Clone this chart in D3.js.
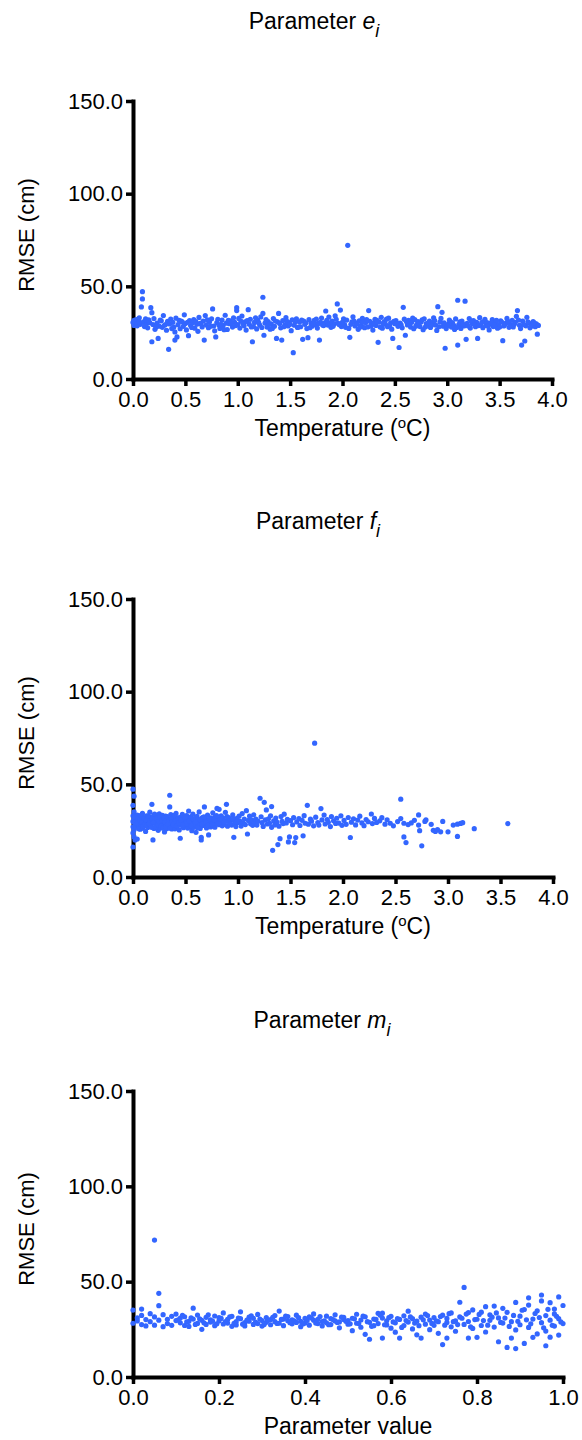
<!DOCTYPE html>
<html>
<head>
<meta charset="utf-8">
<script src="https://cdn.jsdelivr.net/npm/d3@7"></script>
<style>
  body { margin: 0; background: #fff; }
  svg text { font-family: "Liberation Sans", Arial, sans-serif; fill: #000; }
</style>
</head>
<body>
<div id="chart"></div>
<script>
'use strict'

////////////////////////////////////
/////////////// data ///////////////
////////////////////////////////////

// [temperature (oC), RMSE (cm)] for parameter e_i
const paramE = [
  [0.00,30.5],[0.01,28.9],[0.01,31.6],[0.02,29.8],[0.03,32.1],[0.03,30.4],[0.04,28.7],[0.05,31.2],[0.06,33.0],[0.07,29.5],
  [0.08,38.9],[0.09,47.1],[0.09,43.2],[0.10,30.8],[0.11,28.3],[0.12,32.4],[0.13,30.1],[0.14,27.6],[0.15,31.9],[0.17,38.5],
  [0.18,35.8],[0.18,20.1],[0.19,29.4],[0.20,32.6],[0.21,26.8],[0.23,30.2],[0.24,21.9],[0.25,28.5],[0.27,31.4],[0.28,27.9],
  [0.29,34.2],[0.30,29.0],[0.32,26.3],[0.33,31.1],[0.34,16.0],[0.35,29.7],[0.36,32.3],[0.37,27.2],[0.38,30.6],[0.40,21.0],
  [0.40,25.4],[0.41,32.8],[0.42,22.7],[0.43,29.3],[0.44,31.7],[0.45,27.1],[0.47,30.9],[0.48,28.4],[0.49,34.6],[0.50,29.9],
  [0.51,26.5],[0.53,23.4],[0.54,31.5],[0.55,28.8],[0.57,30.3],[0.58,32.0],[0.59,27.4],[0.61,29.6],[0.62,25.7],[0.63,33.2],
  [0.64,30.0],[0.66,28.1],[0.67,31.3],[0.68,21.0],[0.69,34.2],[0.70,29.2],[0.72,27.7],[0.73,30.7],[0.75,32.5],[0.76,37.8],
  [0.77,28.6],[0.78,26.0],[0.79,22.7],[0.80,30.4],[0.82,29.1],[0.83,27.3],[0.85,31.8],[0.86,28.9],[0.88,34.4],[0.89,30.1],
  [0.90,26.7],[0.92,29.8],[0.93,31.4],[0.95,28.0],[0.96,33.0],[0.97,30.6],[0.99,38.5],[0.99,36.9],[1.00,29.4],[1.02,27.5],
  [1.03,31.2],[1.04,34.0],[1.06,28.7],[1.07,30.9],[1.08,26.4],[1.10,37.4],[1.11,29.6],[1.12,32.2],[1.14,20.1],[1.15,28.3],
  [1.16,30.5],[1.18,27.0],[1.19,31.7],[1.21,29.1],[1.22,33.5],[1.24,44.1],[1.24,35.4],[1.25,23.6],[1.26,30.2],[1.28,28.0],
  [1.29,31.0],[1.31,26.9],[1.32,29.7],[1.34,32.6],[1.35,28.4],[1.37,21.9],[1.38,30.8],[1.39,35.4],[1.41,27.6],[1.42,21.0],
  [1.43,31.5],[1.45,29.2],[1.46,33.1],[1.48,28.6],[1.49,30.4],[1.51,26.1],[1.52,31.9],[1.53,14.2],[1.54,29.0],[1.56,32.4],
  [1.57,27.8],[1.59,30.7],[1.60,28.2],[1.62,21.4],[1.63,31.3],[1.64,29.5],[1.66,27.2],[1.67,22.3],[1.68,32.0],[1.70,30.1],
  [1.71,28.5],[1.73,31.6],[1.74,29.3],[1.76,27.5],[1.78,21.0],[1.79,30.6],[1.80,32.9],[1.82,28.8],[1.83,30.3],[1.84,36.7],
  [1.86,29.1],[1.87,33.4],[1.89,27.9],[1.90,31.2],[1.92,29.7],[1.93,34.1],[1.95,40.5],[1.96,30.0],[1.98,37.2],[1.99,28.3],
  [2.01,32.5],[2.02,29.4],[2.04,31.8],[2.05,72.1],[2.06,27.3],[2.07,22.5],[2.09,30.9],[2.10,33.6],[2.12,28.6],[2.13,30.2],
  [2.15,26.8],[2.16,31.4],[2.18,29.0],[2.19,32.7],[2.21,27.7],[2.22,30.5],[2.24,28.1],[2.25,36.9],[2.26,31.1],[2.28,29.3],
  [2.29,26.4],[2.31,32.2],[2.32,28.9],[2.34,19.8],[2.35,30.7],[2.37,33.3],[2.38,27.4],[2.40,31.0],[2.41,29.6],[2.43,28.2],
  [2.44,32.8],[2.46,30.3],[2.47,26.9],[2.48,21.9],[2.50,29.8],[2.51,31.5],[2.53,28.4],[2.54,17.0],[2.55,30.1],[2.57,27.6],
  [2.58,38.7],[2.59,32.3],[2.60,23.6],[2.62,29.2],[2.63,31.7],[2.65,28.0],[2.66,30.6],[2.68,27.1],[2.69,32.1],[2.71,29.5],
  [2.72,31.0],[2.74,28.3],[2.75,30.8],[2.77,26.6],[2.78,32.5],[2.80,29.9],[2.81,28.7],[2.83,31.3],[2.84,27.8],[2.86,30.4],
  [2.87,33.0],[2.89,29.1],[2.90,26.2],[2.91,39.0],[2.93,30.7],[2.95,36.0],[2.96,28.5],[2.98,16.6],[2.99,27.2],[3.01,29.6],
  [3.02,31.8],[3.04,28.0],[3.05,30.3],[3.07,26.7],[3.08,32.4],[3.10,42.5],[3.10,18.3],[3.11,29.4],[3.13,27.3],[3.14,31.2],
  [3.16,28.6],[3.17,42.0],[3.18,21.4],[3.19,30.0],[3.21,32.6],[3.22,27.5],[3.24,29.8],[3.25,31.5],[3.27,28.2],[3.28,30.6],
  [3.29,21.9],[3.31,33.1],[3.32,29.0],[3.34,27.7],[3.35,31.0],[3.37,28.9],[3.38,30.4],[3.40,26.5],[3.41,29.7],[3.43,32.0],
  [3.44,28.3],[3.46,30.9],[3.48,27.4],[3.49,29.3],[3.51,31.4],[3.53,20.7],[3.54,28.6],[3.56,30.2],[3.57,32.7],[3.59,27.9],
  [3.60,29.5],[3.62,31.7],[3.63,28.1],[3.65,30.6],[3.66,33.8],[3.67,36.9],[3.69,29.0],[3.70,27.2],[3.71,18.3],[3.72,31.2],
  [3.74,20.5],[3.75,28.7],[3.76,33.3],[3.78,30.1],[3.79,27.6],[3.81,29.4],[3.82,31.0],[3.84,28.2],[3.85,29.8],[3.86,24.2],
  [3.87,28.9],
  [0.02,31.0],[0.04,29.9],[0.06,30.7],[0.12,29.0],[0.16,30.4],[0.22,28.1],[0.26,31.8],[0.31,29.4],[0.39,28.0],[0.46,31.2],
  [0.52,30.6],[0.56,27.8],[0.60,31.0],[0.65,29.7],[0.71,31.9],[0.74,28.4],[0.81,32.2],[0.84,29.5],[0.87,26.6],[0.91,31.6],
  [0.94,30.2],[0.98,28.8],[1.01,32.7],[1.05,29.8],[1.09,31.5],[1.13,28.1],[1.17,33.0],[1.20,30.4],[1.23,27.8],[1.27,32.1],
  [1.30,29.5],[1.33,27.3],[1.36,31.3],[1.40,30.0],[1.44,28.2],[1.47,31.1],[1.50,29.5],[1.55,30.9],[1.58,28.0],[1.61,31.8],
  [1.65,30.3],[1.69,27.7],[1.72,29.9],[1.75,32.3],[1.77,30.0],[1.81,29.2],[1.85,31.6],[1.88,30.2],[1.91,28.4],[1.94,32.2],
  [1.97,29.3],[2.00,30.7],[2.03,27.9],[2.08,29.5],[2.11,31.2],[2.14,29.7],[2.17,28.0],[2.20,30.9],[2.23,32.0],[2.27,28.5],
  [2.30,30.3],[2.33,31.6],[2.36,28.0],[2.39,30.0],[2.42,32.3],[2.45,28.8],[2.49,31.1],[2.52,30.0],[2.56,29.2],[2.61,31.0],
  [2.64,29.6],[2.67,32.8],[2.70,28.5],[2.73,29.9],[2.76,31.9],[2.79,28.0],[2.82,30.1],[2.85,29.0],[2.88,31.5],[2.92,28.2],
  [2.94,32.7],[2.97,30.3],[3.00,28.7],[3.03,31.0],[3.06,29.1],[3.09,27.8],[3.12,30.8],[3.15,29.6],[3.20,28.6],[3.23,31.2],
  [3.26,29.4],[3.30,28.8],[3.33,30.6],[3.36,32.2],[3.39,28.5],[3.42,30.4],[3.45,29.1],[3.47,31.6],[3.50,28.0],[3.52,30.7],
  [3.55,29.4],[3.58,31.1],[3.61,28.6],[3.64,29.6],[3.68,31.8],[3.73,29.3],[3.77,30.9],[3.80,28.4],[3.83,30.3]
]

// [temperature (oC), RMSE (cm)] for parameter f_i
const paramF = [
  [0.00,47.4],[0.01,43.6],[0.00,38.7],[0.01,35.2],[0.00,33.0],[0.01,31.4],[0.00,30.0],[0.02,28.7],[0.00,27.1],[0.01,25.5],
  [0.00,23.8],[0.01,21.6],[0.02,20.0],[0.00,16.2],[0.02,29.6],[0.03,31.9],[0.03,26.9],[0.04,20.5],[0.04,33.4],[0.05,28.2],
  [0.05,30.8],[0.06,27.4],[0.06,32.6],[0.07,29.1],[0.07,25.8],[0.08,31.3],[0.08,28.0],[0.09,34.3],[0.09,26.3],[0.10,30.2],
  [0.10,32.1],[0.11,27.8],[0.11,29.5],[0.12,31.0],[0.12,24.6],[0.13,28.6],[0.13,33.0],[0.14,30.4],[0.14,26.7],[0.15,29.2],
  [0.15,31.8],[0.16,27.3],[0.16,35.0],[0.17,30.0],[0.17,28.1],[0.18,39.2],[0.18,32.4],[0.19,20.0],[0.19,29.8],[0.20,26.2],
  [0.20,31.1],[0.21,28.8],[0.21,33.6],[0.22,30.6],[0.22,27.0],[0.23,29.3],[0.23,32.2],[0.24,25.2],[0.24,30.9],[0.25,28.4],
  [0.25,34.1],[0.26,29.7],[0.26,26.5],[0.27,31.5],[0.27,28.0],[0.28,30.3],[0.28,33.3],[0.29,27.6],[0.29,29.9],[0.30,24.3],
  [0.30,31.7],[0.31,28.9],[0.31,32.9],[0.32,30.1],[0.32,26.1],[0.33,29.0],[0.33,31.2],[0.34,27.7],[0.35,44.1],[0.35,37.8],
  [0.35,30.5],[0.36,28.3],[0.36,33.7],[0.37,25.9],[0.37,29.6],[0.38,31.4],[0.38,27.2],[0.39,30.0],[0.39,32.5],[0.40,28.5],
  [0.40,26.0],[0.41,30.7],[0.41,34.3],[0.42,29.1],[0.42,27.4],[0.43,31.9],[0.43,28.2],[0.44,30.4],[0.44,25.4],[0.45,20.9],
  [0.45,32.2],[0.46,29.4],[0.46,27.9],[0.47,31.0],[0.47,33.8],[0.48,28.6],[0.48,26.6],[0.49,30.2],[0.49,29.0],[0.50,31.6],
  [0.50,27.5],[0.51,33.1],[0.51,29.8],[0.52,26.4],[0.52,30.6],[0.53,28.3],[0.53,35.6],[0.54,31.3],[0.54,27.0],[0.55,29.5],
  [0.55,32.4],[0.56,25.0],[0.56,30.1],[0.57,28.0],[0.57,33.9],[0.58,29.3],[0.58,26.8],[0.59,31.5],[0.59,28.7],[0.60,30.4],
  [0.60,24.1],[0.61,32.7],[0.61,29.0],[0.62,27.3],[0.62,31.1],[0.63,28.4],[0.63,35.1],[0.64,30.0],[0.64,26.2],[0.65,20.0],
  [0.65,21.4],[0.66,29.6],[0.66,32.0],[0.67,27.8],[0.67,30.8],[0.68,37.8],[0.68,28.9],[0.69,31.7],[0.70,26.5],[0.70,29.2],
  [0.71,33.4],[0.72,22.7],[0.72,30.5],[0.73,28.1],[0.74,31.9],[0.74,27.0],[0.75,29.8],[0.76,34.6],[0.76,30.3],[0.77,28.5],
  [0.78,32.3],[0.78,26.9],[0.79,30.0],[0.80,37.0],[0.80,29.1],[0.81,31.4],[0.82,36.5],[0.82,28.2],[0.83,30.7],[0.84,33.0],
  [0.85,27.6],[0.85,29.9],[0.86,31.8],[0.87,28.4],[0.88,34.9],[0.89,39.2],[0.89,30.2],[0.90,27.4],[0.91,32.1],[0.92,29.3],
  [0.93,31.0],[0.94,28.0],[0.95,33.5],[0.96,21.4],[0.96,30.6],[0.97,29.0],[0.98,27.2],[0.99,31.6],[1.00,29.4],[1.01,32.8],
  [1.02,30.0],[1.03,27.5],[1.04,34.2],[1.05,29.1],[1.06,31.3],[1.07,28.3],[1.08,35.8],[1.09,23.2],[1.10,30.5],[1.11,32.9],
  [1.12,28.7],[1.13,30.9],[1.14,27.9],[1.15,33.6],[1.16,29.5],[1.17,31.2],[1.18,28.0],[1.19,30.1],[1.21,42.5],[1.22,32.5],
  [1.23,29.3],[1.24,27.3],[1.25,40.3],[1.26,30.8],[1.27,36.2],[1.28,28.6],[1.29,31.4],[1.30,29.0],[1.31,33.0],[1.32,38.0],
  [1.32,26.8],[1.33,14.4],[1.34,30.3],[1.35,28.1],[1.36,31.8],[1.37,29.6],[1.38,17.5],[1.39,27.4],[1.40,20.7],[1.41,32.6],
  [1.42,30.0],[1.43,28.8],[1.44,33.9],[1.46,29.2],[1.47,31.1],[1.48,18.9],[1.49,21.6],[1.50,30.4],[1.52,28.2],[1.53,32.0],
  [1.54,18.6],[1.55,21.3],[1.56,29.7],[1.58,31.5],[1.59,27.8],[1.61,30.6],[1.62,22.2],[1.63,33.1],[1.64,29.0],[1.66,38.7],
  [1.67,28.5],[1.69,31.2],[1.70,30.1],[1.72,27.6],[1.73,72.2],[1.74,32.3],[1.76,29.4],[1.77,28.0],[1.79,36.9],[1.80,30.8],
  [1.82,33.4],[1.83,28.6],[1.85,31.0],[1.86,29.5],[1.88,27.2],[1.89,32.6],[1.91,30.3],[1.93,28.9],[1.94,31.7],[1.96,29.1],
  [1.98,33.0],[1.99,27.9],[2.01,30.5],[2.03,28.4],[2.05,32.1],[2.07,21.3],[2.08,29.6],[2.10,31.4],[2.12,28.1],[2.14,30.7],
  [2.16,32.8],[2.18,29.2],[2.20,27.7],[2.22,31.0],[2.24,29.8],[2.27,34.0],[2.28,28.8],[2.30,31.6],[2.32,29.4],[2.35,30.3],
  [2.37,32.0],[2.40,28.5],[2.42,30.9],[2.45,29.0],[2.48,27.6],[2.52,29.9],[2.55,42.0],[2.55,31.5],[2.58,21.6],[2.58,29.0],
  [2.60,18.6],[2.62,28.3],[2.65,29.2],[2.68,30.6],[2.72,33.5],[2.72,28.0],[2.73,25.0],[2.75,16.8],[2.78,30.0],[2.79,30.8],
  [2.84,28.4],[2.86,25.2],[2.88,24.6],[2.90,25.6],[2.93,24.4],[2.95,30.0],[3.00,24.4],[3.05,28.0],[3.09,21.9],[3.09,28.5],
  [3.12,28.9],[3.14,29.3],[3.25,26.1],[3.57,28.8],
  [0.015,32.5],[0.035,29.0],[0.045,31.6],[0.055,26.0],[0.065,30.3],[0.075,33.2],[0.085,29.6],[0.095,27.4],[0.105,31.5],[0.115,28.4],
  [0.125,30.9],[0.135,27.9],[0.145,32.8],[0.155,28.7],[0.165,30.6],[0.175,26.8],[0.185,31.2],[0.195,29.5],[0.205,33.9],[0.215,27.1],
  [0.225,31.6],[0.235,28.2],[0.245,29.9],[0.255,32.4],[0.265,27.5],[0.275,30.7],[0.285,26.4],[0.295,31.9],[0.305,29.4],[0.315,27.3],
  [0.325,32.6],[0.335,28.5],[0.345,30.8],[0.355,26.3],[0.365,31.5],[0.375,29.8],[0.385,28.0],[0.395,33.2],[0.405,30.3],[0.415,27.6],
  [0.425,31.0],[0.435,29.2],[0.455,30.8],[0.475,28.1],[0.495,32.3],[0.515,28.8],[0.535,30.2],[0.555,27.7],[0.575,31.3],[0.595,29.6],
  [0.615,26.6],[0.635,30.9],[0.655,28.6],[0.675,32.5],[0.695,29.4],[0.715,27.9],[0.735,31.2],[0.755,28.2],[0.775,30.9],[0.795,33.1],
  [0.815,28.8],[0.835,31.2],[0.865,29.6],[0.895,32.6],[0.925,28.7],[0.955,31.2],[0.985,29.8]
]

// [parameter value, RMSE (cm)] for parameter m_i
const paramM = [
  [0.00,35.1],[0.00,28.2],[0.01,31.0],[0.01,29.4],[0.02,32.3],[0.02,27.5],[0.02,35.6],[0.03,30.1],[0.03,26.8],[0.04,33.2],
  [0.04,29.0],[0.05,71.8],[0.05,27.2],[0.05,31.5],[0.06,43.9],[0.06,37.4],[0.06,29.8],[0.07,26.4],[0.07,32.7],[0.08,30.3],
  [0.08,28.0],[0.09,31.8],[0.09,27.1],[0.10,29.6],[0.10,33.0],[0.11,28.4],[0.11,30.9],[0.12,27.0],[0.12,31.6],[0.13,29.2],
  [0.13,26.5],[0.14,36.1],[0.14,30.4],[0.15,28.1],[0.15,32.5],[0.16,25.0],[0.16,29.7],[0.17,31.3],[0.17,27.6],[0.18,30.0],
  [0.18,28.8],[0.19,32.0],[0.19,26.9],[0.20,29.4],[0.20,31.1],[0.21,27.8],[0.21,33.6],[0.22,30.2],[0.22,28.3],[0.23,26.6],
  [0.23,31.8],[0.24,29.0],[0.24,27.3],[0.25,30.6],[0.25,34.2],[0.26,28.5],[0.26,26.8],[0.27,31.4],[0.27,29.3],[0.28,27.6],
  [0.28,30.8],[0.29,32.8],[0.29,28.0],[0.30,29.6],[0.30,26.7],[0.31,31.2],[0.31,28.7],[0.32,30.1],[0.32,27.4],[0.33,32.2],
  [0.33,29.0],[0.34,34.6],[0.34,28.2],[0.35,30.4],[0.35,26.9],[0.36,29.5],[0.36,31.7],[0.37,27.9],[0.37,30.0],[0.38,28.6],
  [0.38,32.4],[0.39,29.2],[0.39,26.4],[0.40,30.7],[0.40,28.3],[0.41,31.5],[0.41,27.2],[0.42,29.8],[0.42,33.1],[0.43,28.0],
  [0.43,30.3],[0.44,26.8],[0.44,29.1],[0.45,31.9],[0.45,28.4],[0.46,30.6],[0.46,27.5],[0.47,29.4],[0.47,32.6],[0.48,28.9],
  [0.48,25.8],[0.49,30.2],[0.49,31.3],[0.50,27.7],[0.50,29.6],[0.51,24.3],[0.51,30.8],[0.52,28.2],[0.52,32.9],[0.53,26.1],
  [0.53,29.9],[0.54,31.6],[0.54,22.4],[0.55,28.7],[0.55,19.8],[0.56,30.4],[0.56,26.9],[0.57,33.4],[0.57,28.0],[0.58,20.4],
  [0.58,30.9],[0.58,33.5],[0.59,27.3],[0.59,29.5],[0.60,25.6],[0.60,31.8],[0.61,28.4],[0.61,23.5],[0.62,20.4],[0.62,30.2],
  [0.63,27.0],[0.63,32.1],[0.64,34.5],[0.64,28.8],[0.65,25.2],[0.65,30.6],[0.66,22.1],[0.66,29.3],[0.67,20.4],[0.67,31.4],
  [0.68,27.7],[0.68,33.0],[0.69,29.9],[0.69,24.8],[0.70,31.2],[0.70,27.1],[0.71,29.0],[0.71,22.9],[0.72,32.4],[0.72,17.0],
  [0.73,28.6],[0.73,20.4],[0.73,30.7],[0.74,26.3],[0.74,33.6],[0.75,29.4],[0.75,24.0],[0.76,39.2],[0.76,31.5],[0.77,47.0],
  [0.77,27.6],[0.78,20.4],[0.78,33.8],[0.78,29.1],[0.79,25.5],[0.79,35.2],[0.80,20.8],[0.80,30.3],[0.81,27.0],[0.81,34.0],
  [0.82,36.9],[0.82,23.6],[0.83,29.7],[0.83,32.6],[0.84,37.2],[0.84,26.2],[0.85,18.5],[0.85,31.0],[0.86,36.0],[0.86,28.3],
  [0.87,15.5],[0.87,33.9],[0.88,20.4],[0.88,29.0],[0.89,39.1],[0.89,24.7],[0.89,14.9],[0.90,31.9],[0.90,27.4],[0.91,35.4],
  [0.91,17.6],[0.92,41.5],[0.92,37.7],[0.92,26.0],[0.93,20.8],[0.93,30.4],[0.94,22.6],[0.94,34.7],[0.95,43.0],[0.95,39.9],
  [0.95,28.5],[0.96,16.4],[0.96,32.2],[0.96,24.1],[0.97,39.0],[0.97,20.9],[0.97,29.8],[0.98,35.6],[0.98,26.7],[0.98,33.1],
  [0.99,42.0],[0.99,30.6],[0.99,22.0],[1.00,37.5],[1.00,28.0],
  [0.105,30.0],[0.115,32.3],[0.125,28.9],[0.135,31.0],[0.145,27.6],[0.155,30.5],[0.165,28.4],[0.175,32.6],[0.185,29.3],[0.195,27.9],
  [0.205,30.7],[0.215,29.0],[0.225,31.5],[0.235,28.2],[0.245,30.9],[0.255,27.7],[0.265,29.9],[0.275,32.1],[0.285,28.8],[0.295,30.4],
  [0.305,27.5],[0.315,29.7],[0.325,31.3],[0.335,28.1],[0.345,30.2],[0.355,32.0],[0.365,28.5],[0.375,29.4],[0.385,31.1],[0.395,27.8],
  [0.405,29.6],[0.415,30.9],[0.425,28.3],[0.435,31.7],[0.445,29.5],[0.455,27.4],[0.465,30.1],[0.475,28.6],[0.485,31.4],[0.495,29.2],
  [0.505,27.9],[0.515,30.5],[0.525,28.0],[0.535,31.9],[0.545,29.0],[0.555,26.6],[0.565,30.2],[0.575,32.4],[0.585,27.4],[0.595,31.1],
  [0.605,28.9],[0.615,30.6],[0.625,26.0],[0.635,29.6],[0.645,31.5],[0.655,28.3],[0.665,26.9],[0.675,30.0],[0.685,32.2],[0.695,28.1],
  [0.705,29.4],[0.715,31.7],[0.725,27.2],[0.735,33.2],[0.745,29.0],[0.755,27.5],[0.765,30.8],[0.775,33.0],[0.785,26.3],[0.795,30.1],
  [0.805,32.8],[0.815,29.6],[0.825,27.2],[0.835,31.4],[0.845,33.6],[0.855,28.6],[0.865,30.9],[0.875,26.5],[0.885,32.3],[0.895,29.2],
  [0.905,35.0],[0.915,30.0],[0.925,27.9],[0.935,33.3],[0.945,31.2],[0.955,25.8],[0.965,35.5],[0.975,27.1],[0.985,31.8],[0.995,28.9]
]

const tempTicks = [0, 0.5, 1.0, 1.5, 2.0, 2.5, 3.0, 3.5, 4.0]
const valueTicks = [0, 0.2, 0.4, 0.6, 0.8, 1.0]
const rmseTicks = [0, 50, 100, 150]

////////////////////////////////////
//////////// svg setup /////////////
////////////////////////////////////

const svgWidth = 582, svgHeight = 1440
const dotColor = '#3366ff'

const svg = d3.select('#chart')
    .append('svg')
    .attr('width', svgWidth)
    .attr('height', svgHeight)

// one entry per stacked panel
const panels = [
    { data: paramE, letter: 'e', xMax: 4, ticks: tempTicks, xTitle: 'temp',
      left: 133, right: 552, top: 101, bottom: 379, titleX: 314, titleY: 29 },
    { data: paramF, letter: 'f', xMax: 4, ticks: tempTicks, xTitle: 'temp',
      left: 133, right: 553, top: 599, bottom: 877, titleX: 318, titleY: 529 },
    { data: paramM, letter: 'm', xMax: 1, ticks: valueTicks, xTitle: 'Parameter value',
      left: 133, right: 563, top: 1091, bottom: 1377, titleX: 322, titleY: 1028 }
]

panels.forEach(p => drawPanel(p))

function drawPanel(p) {

    const x = d3.scaleLinear().domain([0, p.xMax]).range([p.left, p.right])
    const y = d3.scaleLinear().domain([0, 150]).range([p.bottom, p.top])

    const g = svg.append('g')

    // title: Parameter + italic letter with italic subscript i
    const title = g.append('text')
        .attr('x', p.titleX)
        .attr('y', p.titleY)
        .attr('text-anchor', 'middle')
        .style('font-size', '23px')
    title.append('tspan').text('Parameter ')
    title.append('tspan').style('font-style', 'italic').text(p.letter)
    title.append('tspan').style('font-style', 'italic').style('font-size', '18px')
        .attr('dy', 8).text('i')

    // y axis
    const yAxis = g.append('g')
        .attr('transform', `translate(${p.left},0)`)
        .call(d3.axisLeft(y).tickValues(rmseTicks).tickFormat(d3.format('.1f'))
            .tickSize(7).tickSizeOuter(0).tickPadding(3))

    // x axis
    const xAxis = g.append('g')
        .attr('transform', `translate(0,${p.bottom})`)
        .call(d3.axisBottom(x).tickValues(p.ticks).tickFormat(d3.format('.1f'))
            .tickSize(7).tickSizeOuter(0).tickPadding(5))

    ;[yAxis, xAxis].forEach(a => {
        a.select('.domain').attr('stroke', '#000').attr('stroke-width', 4)
            .attr('stroke-linecap', 'square')
        a.selectAll('.tick line').attr('stroke', '#000').attr('stroke-width', 3.5)
        a.selectAll('.tick text')
            .style('font-size', '22px')
            .style('font-family', '"Liberation Sans", Arial, sans-serif')
            .attr('fill', '#000')
    })

    // y axis title
    g.append('text')
        .attr('transform', `translate(34,${(p.top + p.bottom) / 2 - 5}) rotate(-90)`)
        .attr('text-anchor', 'middle')
        .style('font-size', '22px')
        .text('RMSE (cm)')

    // x axis title
    const xt = g.append('text')
        .attr('x', (p.left + p.right) / 2)
        .attr('y', p.bottom + 57)
        .attr('text-anchor', 'middle')
        .style('font-size', '23px')
    if (p.xTitle == 'temp') {
        xt.append('tspan').text('Temperature (')
        xt.append('tspan').attr('dy', -8).style('font-size', '15px').text('o')
        xt.append('tspan').attr('dy', 8).text('C)')
    } else {
        xt.text(p.xTitle)
    }

    // points on top of the axes
    g.append('g')
        .selectAll('circle')
        .data(p.data)
        .join('circle')
        .attr('cx', d => x(d[0]))
        .attr('cy', d => y(d[1]))
        .attr('r', 2.6)
        .attr('fill', dotColor)
}
</script>
</body>
</html>
